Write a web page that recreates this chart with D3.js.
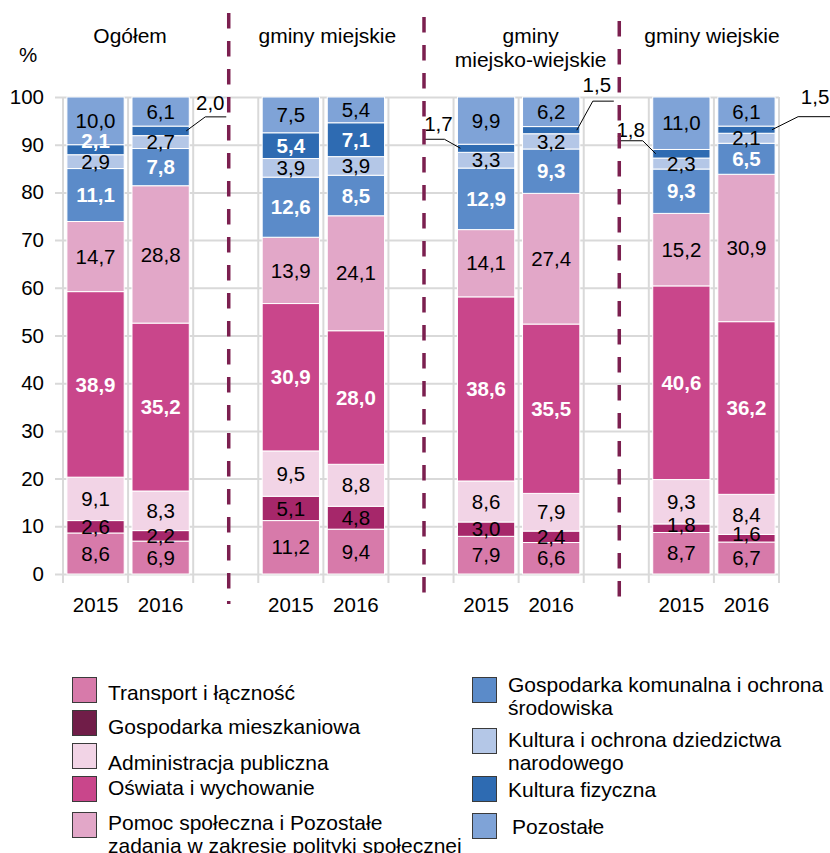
<!DOCTYPE html>
<html>
<head>
<meta charset="utf-8">
<script src="https://cdn.jsdelivr.net/npm/d3@7"></script>
<style>
  body { margin: 0; background: #fff; }
  svg { display: block; }
  text { font-family: "Liberation Sans", Arial, sans-serif; fill: #000; }
</style>
</head>
<body>
<div id="chart"></div>
<script>
// Categories
const groups = ["Ogółem", "gminy miejskie", "gminy miejsko-wiejskie", "gminy wiejskie"];
const years = ["2015", "2016"];

// Series (bars: Ogółem 2015, 2016, miejskie 2015, 2016, miejsko-wiejskie 2015, 2016, wiejskie 2015, 2016)
const transport = [8.6, 6.9, 11.2, 9.4, 7.9, 6.6, 8.7, 6.7];
const mieszkaniowa = [2.6, 2.2, 5.1, 4.8, 3.0, 2.4, 1.8, 1.6];
const administracja = [9.1, 8.3, 9.5, 8.8, 8.6, 7.9, 9.3, 8.4];
const oswiata = [38.9, 35.2, 30.9, 28.0, 38.6, 35.5, 40.6, 36.2];
const pomoc = [14.7, 28.8, 13.9, 24.1, 14.1, 27.4, 15.2, 30.9];
const komunalna = [11.1, 7.8, 12.6, 8.5, 12.9, 9.3, 9.3, 6.5];
const kultura = [2.9, 2.7, 3.9, 3.9, 3.3, 3.2, 2.3, 2.1];
const fizyczna = [2.1, 2.0, 5.4, 7.1, 1.7, 1.5, 1.8, 1.5];
const pozostale = [10.0, 6.1, 7.5, 5.4, 9.9, 6.2, 11.0, 6.1];

const seriesNames = [
  "Transport i łączność",
  "Gospodarka mieszkaniowa",
  "Administracja publiczna",
  "Oświata i wychowanie",
  "Pomoc społeczna i Pozostałe\nzadania w zakresie polityki społecznej",
  "Gospodarka komunalna i ochrona\nśrodowiska",
  "Kultura i ochrona dziedzictwa\nnarodowego",
  "Kultura fizyczna",
  "Pozostałe"
];
const seriesValues = [transport, mieszkaniowa, administracja, oswiata, pomoc, komunalna, kultura, fizyczna, pozostale];
const yTicks = [0, 10, 20, 30, 40, 50, 60, 70, 80, 90, 100];

// Styles
const colors = ["#d77aaa", "#a6276a", "#f2d4e6", "#c9468b", "#e2a7c8", "#5b8bc9", "#b4c7e7", "#2e6bb2", "#7fa3d7"];
const legendColors = ["#d77aaa", "#701d48", "#f2d4e6", "#c9468b", "#e2a7c8", "#5b8bc9", "#b4c7e7", "#2e6bb2", "#7fa3d7"];
const boldWhite = [false, false, false, true, false, true, false, true, false];
const gridColor = "#d9d9d9";
const sepColor = "#7b1f4f";
const fontSize = 20.5;

const width = 830;
const height = 853;

// slots: two bars per group, a gap between groups
const slots = [];
groups.forEach((g, gi) => {
  years.forEach((yr, yi) => slots.push("b" + (gi * 2 + yi)));
  if (gi < groups.length - 1) slots.push("gap" + gi);
});

const data = transport.map((_, i) => {
  const o = { slot: "b" + i, year: years[i % 2] };
  seriesNames.forEach((k, j) => o[k] = seriesValues[j][i]);
  return o;
});

const svg = d3.select("#chart").append("svg")
  .attr("width", width)
  .attr("height", height);

const x = d3.scaleBand()
  .domain(slots)
  .range([63, 779])
  .paddingInner(0.12)
  .paddingOuter(0.06);
const step = x.step();
const bw = x.bandwidth();
const y = d3.scaleLinear().domain([0, 100]).range([574, 97]);

// Horizontal gridlines + y labels
const yAxis = svg.append("g")
  .attr("transform", "translate(55,0)")
  .call(d3.axisLeft(y).tickValues(yTicks).tickSize(-(779 - 55)).tickPadding(11));
yAxis.select(".domain").remove();
yAxis.selectAll(".tick line").attr("stroke", gridColor).attr("stroke-width", 2);
yAxis.selectAll(".tick text").attr("font-size", fontSize).attr("fill", "#000")
  .attr("font-family", "Liberation Sans, Arial, sans-serif");

// Vertical gridlines on slot boundaries
svg.append("g")
  .selectAll("line")
  .data(d3.range(slots.length + 1))
  .join("line")
  .attr("x1", i => x.range()[0] + i * step)
  .attr("x2", i => x.range()[0] + i * step)
  .attr("y1", y(100))
  .attr("y2", y(0) + 9)
  .attr("stroke", gridColor)
  .attr("stroke-width", 2);

svg.append("text")
  .attr("x", 28).attr("y", 62)
  .attr("text-anchor", "middle")
  .attr("font-size", fontSize)
  .text("%");

// Stacked bars
const stacked = d3.stack().keys(seriesNames)(data);

const layers = svg.append("g")
  .selectAll("g")
  .data(stacked)
  .join("g")
  .attr("fill", (d, i) => colors[i]);

layers.selectAll("rect")
  .data(d => d)
  .join("rect")
  .attr("x", d => x(d.data.slot))
  .attr("y", d => y(d[1]))
  .attr("width", bw)
  .attr("height", d => y(d[0]) - y(d[1]))
  .attr("stroke", "#fff")
  .attr("stroke-width", 1);

// Callouts for thin "Kultura fizyczna" segments
const callouts = [
  { bar: 1, side: 1, elbow: 16, len: 21, dy: -14, tx: 5, ty: -7 },
  { bar: 4, side: -1, elbow: 13, len: 21, dy: -9, tx: 6, ty: -8 },
  { bar: 5, side: 1, elbow: 13, len: 21, dy: -29, tx: 4, ty: -9 },
  { bar: 6, side: -1, elbow: 10, len: 25, dy: -13, tx: 12, ty: -4 },
  { bar: 7, side: 1, elbow: 23, len: 32, dy: -13, tx: 17, ty: -13 }
];
const fizIndex = 7;
const calloutBars = callouts.map(c => c.bar);
// small vertical nudges of crowded inside labels ("series-bar": px)
const labelShift = { "7-0": -9, "1-6": -3, "1-7": -4 };

const fmt = v => d3.format(".1f")(v).replace(".", ",");

// Inside labels
stacked.forEach((layer, j) => {
  svg.append("g")
    .selectAll("text")
    .data(layer.map((d, i) => ({ d, i })).filter(o => !(j === fizIndex && calloutBars.includes(o.i))))
    .join("text")
    .attr("x", o => x(o.d.data.slot) + bw / 2)
    .attr("y", o => (y(o.d[0]) + y(o.d[1])) / 2 + (labelShift[j + "-" + o.i] || 0))
    .attr("dy", "0.35em")
    .attr("text-anchor", "middle")
    .attr("font-size", fontSize)
    .attr("font-weight", boldWhite[j] ? "bold" : "normal")
    .style("fill", boldWhite[j] ? "#fff" : "#000")
    .text(o => fmt(o.d[1] - o.d[0]));
});

const calloutG = svg.append("g");
callouts.forEach(c => {
  const d = stacked[fizIndex][c.bar];
  const cy = (y(d[0]) + y(d[1])) / 2;
  const edge = c.side > 0 ? x(d.data.slot) + bw : x(d.data.slot);
  const ex = edge + c.side * c.elbow;
  const ly = cy + c.dy;
  calloutG.append("path")
    .attr("d", d3.line()([[edge - c.side * 3, cy], [ex, ly], [ex + c.side * c.len, ly]]))
    .attr("fill", "none")
    .attr("stroke", "#000")
    .attr("stroke-width", 1);
  calloutG.append("text")
    .attr("x", ex + c.side * c.tx)
    .attr("y", ly + c.ty)
    .attr("text-anchor", "middle")
    .attr("font-size", fontSize)
    .text(fmt(d[1] - d[0]));
});

// X labels
const xAxis = svg.append("g")
  .attr("transform", `translate(0,${y(0)})`)
  .call(d3.axisBottom(x)
    .tickValues(data.map(d => d.slot))
    .tickFormat(s => data.find(d => d.slot === s).year)
    .tickSize(0)
    .tickPadding(23));
xAxis.select(".domain").remove();
xAxis.selectAll(".tick text").attr("font-size", fontSize).attr("fill", "#000")
  .attr("font-family", "Liberation Sans, Arial, sans-serif");

// Group separators
const sepStarts = [13, 17, 21];
svg.append("g")
  .selectAll("line")
  .data(d3.range(groups.length - 1))
  .join("line")
  .attr("x1", i => x("gap" + i) + bw / 2 + 3)
  .attr("x2", i => x("gap" + i) + bw / 2 + 3)
  .attr("y1", i => sepStarts[i])
  .attr("y2", 604)
  .attr("stroke", sepColor)
  .attr("stroke-width", 3.5)
  .attr("stroke-dasharray", "15.5,12.5");

// Group titles
const titleDx = [2, 4, 12, -2];
groups.forEach((g, gi) => {
  const cx = (x("b" + gi * 2) + x("b" + (gi * 2 + 1)) + bw) / 2 + titleDx[gi];
  const lines = g === "gminy miejsko-wiejskie" ? ["gminy", "miejsko-wiejskie"] : [g];
  const t = svg.append("text")
    .attr("x", cx)
    .attr("y", 43)
    .attr("text-anchor", "middle")
    .attr("font-size", 21);
  lines.forEach((l, li) => t.append("tspan").attr("x", cx).attr("dy", li ? 23.5 : 0).text(l));
});

// Legend
const legendCols = [
  { x: 72, items: [0, 1, 2, 3, 4], tops: [677, 710, 743, 776, 812], textY: [693, 727, 763, 788, 823] },
  { x: 472, items: [5, 6, 7, 8], tops: [677, 728, 776, 813], textY: [685, 740, 790, 827] }
];
const legend = svg.append("g");
legendCols.forEach((col, ci) => {
  col.items.forEach((si, k) => {
    legend.append("rect")
      .attr("x", col.x + 0.5)
      .attr("y", col.tops[k] + 0.5)
      .attr("width", 24)
      .attr("height", 25)
      .attr("fill", legendColors[si])
      .attr("stroke", "#3a3a3a")
      .attr("stroke-width", 1);
    const tx = col.x + (ci === 1 && si === 8 ? 40 : 36);
    const t = legend.append("text")
      .attr("x", tx)
      .attr("y", col.textY[k])
      .attr("font-size", 21);
    seriesNames[si].split("\n").forEach((l, li) =>
      t.append("tspan").attr("x", tx).attr("dy", li ? 22.5 : "0.35em").text(l));
  });
});
</script>
</body>
</html>
